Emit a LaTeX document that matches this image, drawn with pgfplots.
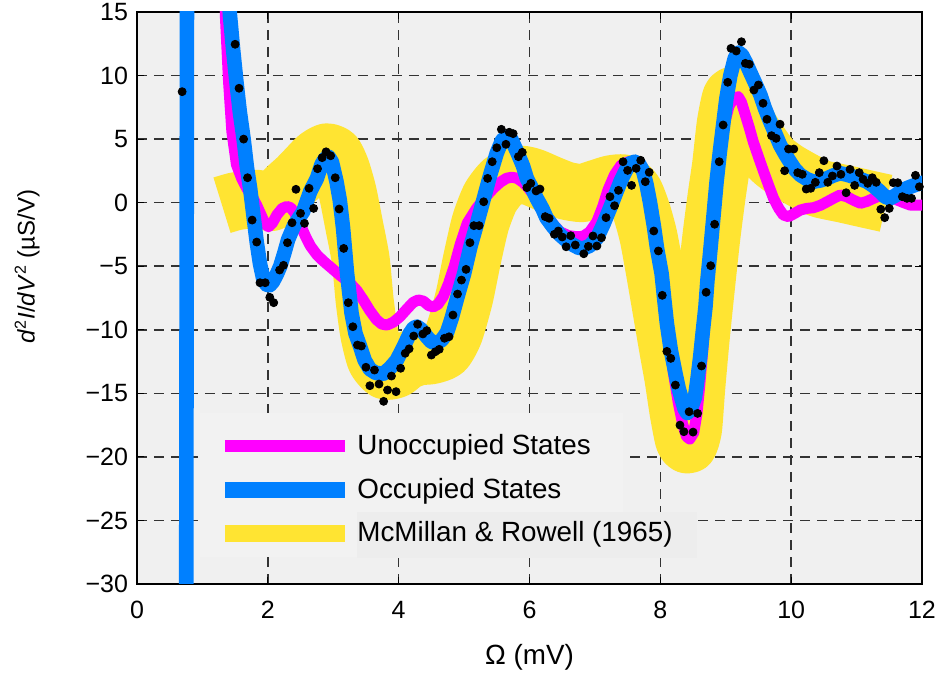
\documentclass[border=0pt]{standalone}
\usepackage{fontspec}
\setmainfont{Liberation Sans}
\usepackage{pgfplots}
\pgfplotsset{compat=1.18}
\definecolor{bggray}{HTML}{F0F0F0}
\definecolor{leggray}{HTML}{F2F2F2}
\definecolor{rowgray}{HTML}{EDEDED}
\definecolor{mymag}{HTML}{FF00FF}
\definecolor{myblue}{HTML}{0080FF}
\definecolor{myyel}{HTML}{FFE432}
\begin{document}
\begin{tikzpicture}
\begin{axis}[
  scale only axis, width=392.5pt, height=286pt,
  xmin=0, xmax=12, ymin=-30, ymax=15,
  xtick={0,2,...,12}, ytick={-30,-25,...,15},
  yticklabels={−30,−25,−20,−15,−10,−5,0,5,10,15},
  /pgf/number format/assume math mode=true,
  tick label style={font=\fontsize{12.5}{14}\selectfont},
  xticklabel style={yshift=-5pt},
  yticklabel style={xshift=-1pt},
  grid=major,
  grid style={black!80, line width=0.75pt, dash pattern=on 5pt off 3.5pt},
  axis background/.style={fill=bggray},
  axis line style={line width=1pt},
  tick style={black, line width=0.6pt},
  tick align=inside, major tick length=3.5pt,
  xlabel={Ω (mV)},
  xlabel style={font=\fontsize{13.9}{16}\selectfont, at={(axis description cs:0.5,-0.129)}, anchor=center},
  ylabel={\textit{d}\textsuperscript{2}\textit{I}/\textit{dV}\textsuperscript{2} (µS/V)},
  ylabel style={font=\fontsize{12}{14}\selectfont, at={(axis description cs:-0.14,0.555)}, anchor=center},
  legend style={at={(axis description cs:0.0803,0.299)}, anchor=north west,
    fill=none, draw=none, inner xsep=8pt, inner ysep=5.6pt,
    column sep=2pt, row sep=0pt,
    font=\fontsize{13.9}{16}\selectfont,
    nodes={inner sep=0pt, minimum height=21.75pt}},
  legend cell align=left,
]
\addlegendimage{legend image code/.code={\draw[mymag, line width=6pt] (0pt,0pt) -- (60pt,0pt);}}
\addlegendentry{Unoccupied States}
\addlegendimage{legend image code/.code={\draw[myblue, line width=8pt] (0pt,0pt) -- (60pt,0pt);}}
\addlegendentry{Occupied States}
\addlegendimage{legend image code/.code={\draw[myyel, line width=8.5pt] (0pt,0pt) -- (60pt,0pt);}}
\addlegendentry{McMillan \& Rowell (1965)}

\fill[leggray] (axis cs:0.963,-16.55) rectangle (axis cs:7.43,-27.88);
\fill[rowgray] (axis cs:3.364,-24.34) rectangle (axis cs:8.563,-27.96);

% McMillan & Rowell (1965)
\addplot[myyel, line width=29pt, line join=round, smooth, tension=0.4, forget plot] coordinates {
(1.30,-0.2)(1.50,0.1)(1.70,0.25)(1.85,0.3)(1.97,0.1)(2.05,0.05)(2.15,0.4)(2.30,1.2)(2.45,1.9)(2.60,2.7)(2.75,3.5)(2.90,3.95)(3.02,3.7)(3.12,2.6)(3.22,0.8)(3.32,-1.8)(3.42,-4.5)(3.48,-7.7)(3.55,-10.3)(3.65,-12.3)(3.80,-13.2)(3.95,-13.1)(4.10,-12.5)(4.30,-12.1)(4.50,-12.0)(4.70,-11.6)(4.85,-10.2)(5.00,-7.5)(5.12,-4.5)(5.25,-1.6)(5.40,0.4)(5.60,1.7)(5.85,2.2)(6.05,2.0)(6.30,1.45)(6.55,0.95)(6.80,0.75)(7.00,1.05)(7.25,1.45)(7.45,1.5)(7.60,0.8)(7.72,-0.8)(7.82,-2.7)(7.92,-5.5)(8.02,-8.5)(8.12,-11.5)(8.20,-13.8)(8.28,-16.5)(8.36,-18.6)(8.43,-19.0)(8.50,-17.8)(8.55,-14.5)(8.62,-10.5)(8.70,-6.5)(8.78,-2.7)(8.86,0.5)(8.93,3.0)(9.00,6.2)(9.08,8.2)(9.16,8.4)(9.25,7.2)(9.35,6.0)(9.50,4.8)(9.70,3.4)(9.93,2.5)(10.20,1.7)(10.44,1.1)(10.80,0.7)(11.10,0.35)(11.45,-0.05)
};

% Unoccupied States
\addplot[mymag, line width=5.5pt, line join=round, forget plot] coordinates {
(1.30,30)(1.35,14.8)(1.40,9.5)(1.45,5.6)(1.52,3.0)(1.60,1.9)(1.68,1.1)(1.76,0.5)(1.83,-0.2)(1.90,-1.0)(1.96,-1.7)(2.01,-1.9)(2.07,-1.6)(2.14,-0.95)(2.22,-0.45)(2.29,-0.3)(2.35,-0.4)(2.41,-0.8)(2.47,-1.4)(2.52,-2.0)(2.58,-2.7)(2.65,-3.4)(2.75,-4.1)(2.85,-4.6)(2.95,-5.04)(3.10,-5.7)(3.26,-6.35)(3.36,-6.9)(3.46,-7.66)(3.56,-8.5)(3.66,-9.2)(3.74,-9.55)(3.82,-9.63)(3.92,-9.4)(4.02,-8.97)(4.12,-8.4)(4.22,-7.85)(4.30,-7.65)(4.38,-7.75)(4.46,-8.1)(4.53,-8.2)(4.60,-8.0)(4.68,-7.4)(4.76,-6.4)(4.85,-5.0)(4.94,-3.3)(5.05,-1.6)(5.19,-0.45)(5.32,0.4)(5.45,1.13)(5.55,1.6)(5.65,1.92)(5.73,2.0)(5.81,1.92)(5.90,1.6)(5.96,1.3)(6.05,0.7)(6.15,-0.1)(6.26,-1.0)(6.36,-1.7)(6.47,-2.3)(6.60,-2.6)(6.72,-2.68)(6.82,-2.65)(6.92,-2.3)(7.03,-1.5)(7.12,-0.3)(7.20,1.0)(7.30,2.2)(7.40,2.95)(7.50,3.2)(7.58,3.25)(7.66,3.0)(7.74,2.4)(7.80,1.2)(7.85,0)(7.91,-2)(7.96,-3.9)(8.02,-5.8)(8.07,-8)(8.12,-10.3)(8.20,-13.4)(8.27,-15.6)(8.34,-17.4)(8.40,-18.4)(8.45,-18.6)(8.51,-18.1)(8.56,-16.6)(8.60,-14.5)(8.65,-11.5)(8.70,-8)(8.75,-4.8)(8.80,-2)(8.86,1.0)(8.92,3.9)(8.98,6.2)(9.05,7.6)(9.12,8.2)(9.19,8.34)(9.24,7.9)(9.30,6.9)(9.36,5.9)(9.42,4.8)(9.50,3.6)(9.58,2.43)(9.66,1.3)(9.73,0.34)(9.81,-0.45)(9.88,-0.97)(9.96,-1.1)(10.05,-0.85)(10.14,-0.58)(10.24,-0.45)(10.34,-0.4)(10.45,-0.2)(10.55,0.07)(10.65,0.35)(10.75,0.6)(10.85,0.47)(10.95,0.2)(11.06,-0.05)(11.16,0.1)(11.26,0.34)(11.36,0.55)(11.46,0.6)(11.54,0.4)(11.62,0.21)(11.72,0)(11.82,-0.19)(11.97,-0.19)(12.05,-0.2)
};

% Occupied States
\addplot[myblue, line width=7.3pt, line join=round, forget plot] coordinates {
(0.75,-40)(0.77,40)(1.30,40)(1.36,22)(1.42,14.8)(1.47,12.0)(1.52,9.5)(1.57,7.2)(1.63,5.0)(1.68,2.8)(1.73,1.1)(1.78,-1.0)(1.83,-3.1)(1.88,-4.8)(1.93,-6.0)(1.98,-6.45)(2.03,-6.5)(2.08,-6.2)(2.14,-5.6)(2.19,-5.0)(2.25,-4.0)(2.31,-2.9)(2.40,-1.8)(2.54,-0.7)(2.65,0.9)(2.75,1.9)(2.82,3.0)(2.88,3.5)(2.93,3.6)(2.98,3.2)(3.05,1.65)(3.10,0.2)(3.15,-2.0)(3.21,-5.5)(3.28,-8.7)(3.34,-10.3)(3.41,-11.3)(3.48,-12.4)(3.56,-13.1)(3.65,-13.4)(3.77,-13.45)(3.87,-13.0)(3.97,-12.4)(4.07,-11.4)(4.17,-10.3)(4.23,-9.85)(4.28,-9.75)(4.35,-10.0)(4.43,-10.55)(4.50,-10.95)(4.58,-11.05)(4.66,-10.8)(4.74,-10.2)(4.81,-9.1)(4.90,-7.4)(5.00,-5.6)(5.10,-3.4)(5.20,-1.6)(5.30,0.3)(5.40,2.2)(5.50,3.9)(5.58,4.9)(5.65,5.2)(5.72,5.0)(5.81,4.0)(5.90,2.9)(5.96,1.9)(6.04,1.1)(6.11,0.34)(6.20,-0.5)(6.26,-1.2)(6.36,-1.9)(6.47,-2.55)(6.57,-3.0)(6.67,-3.33)(6.75,-3.55)(6.82,-3.6)(6.92,-3.4)(7.03,-2.8)(7.13,-1.7)(7.23,-0.45)(7.31,0.6)(7.39,1.65)(7.47,2.5)(7.54,3.1)(7.61,3.22)(7.68,3.0)(7.74,2.43)(7.79,1.4)(7.84,0.07)(7.90,-1.8)(7.95,-3.6)(8.02,-5.6)(8.06,-7.6)(8.10,-9.5)(8.16,-11.6)(8.23,-13.4)(8.28,-14.6)(8.33,-15.5)(8.37,-16.2)(8.41,-16.55)(8.46,-16.3)(8.53,-15.3)(8.57,-13.8)(8.61,-12.1)(8.65,-10.1)(8.69,-8.2)(8.72,-6.1)(8.76,-4.0)(8.81,-1.2)(8.86,1.65)(8.91,4.0)(8.96,6.1)(9.01,8.2)(9.07,10.0)(9.14,11.4)(9.20,11.8)(9.25,11.6)(9.31,11.0)(9.37,10.3)(9.45,9.4)(9.53,8.47)(9.60,7.4)(9.68,6.37)(9.76,5.4)(9.83,4.54)(9.91,3.8)(9.98,3.22)(10.06,2.6)(10.14,2.18)(10.24,1.85)(10.34,1.65)(10.45,1.75)(10.55,1.92)(10.65,2.15)(10.75,2.31)(10.85,2.2)(10.95,2.04)(11.06,1.85)(11.16,1.65)(11.26,1.3)(11.36,0.86)(11.44,0.45)(11.51,0.34)(11.59,0.55)(11.67,0.86)(11.75,1.1)(11.82,1.25)(11.90,1.4)(11.97,1.52)(12.05,1.6)
};

% data points
\addplot[only marks, mark=*, mark size=2pt, black, forget plot] coordinates {
(0.69,8.73)(1.50,12.46)(1.56,9.0)(1.63,5.0)(1.69,1.96)(1.76,-1.37)(1.83,-3.1)(1.88,-6.3)(1.96,-6.3)(2.03,-7.45)(2.09,-7.87)(2.18,-5.3)(2.24,-4.93)(2.30,-3.15)(2.37,-1.58)(2.43,1.05)(2.50,-0.84)(2.56,-1.63)(2.63,1.13)(2.70,-0.45)(2.76,2.67)(2.83,3.54)(2.89,4.0)(2.96,3.69)(3.03,1.96)(3.09,-0.5)(3.16,-3.6)(3.23,-7.87)(3.30,-9.76)(3.37,-11.2)(3.43,-11.28)(3.50,-12.95)(3.56,-14.4)(3.63,-13.17)(3.70,-14.27)(3.77,-15.63)(3.83,-14.74)(3.89,-13.64)(3.96,-14.87)(4.03,-13.03)(4.10,-11.85)(4.16,-11.5)(4.23,-10.49)(4.29,-9.57)(4.37,-10.33)(4.43,-10.07)(4.50,-11.99)(4.56,-11.73)(4.62,-11.54)(4.70,-10.67)(4.77,-10.55)(4.83,-8.84)(4.90,-7.19)(4.96,-6.09)(5.03,-5.25)(5.09,-3.15)(5.15,-1.81)(5.23,-1.81)(5.30,0.07)(5.36,1.91)(5.43,3.22)(5.50,4.32)(5.57,5.77)(5.64,4.59)(5.69,5.54)(5.75,5.43)(5.83,3.62)(5.89,3.96)(5.96,1.18)(6.02,1.52)(6.10,0.92)(6.16,1.07)(6.24,-1.1)(6.30,-1.23)(6.38,-2.49)(6.44,-2.23)(6.50,-2.7)(6.56,-3.47)(6.63,-2.6)(6.70,-3.33)(6.83,-4.02)(6.90,-3.44)(6.97,-2.62)(7.03,-3.41)(7.10,-2.76)(7.17,-1.18)(7.23,0.47)(7.30,-0.24)(7.36,0.97)(7.43,3.22)(7.50,2.54)(7.56,1.36)(7.63,2.70)(7.70,3.33)(7.77,1.65)(7.83,2.39)(7.90,-2.23)(7.97,-3.8)(8.03,-7.29)(8.10,-11.7)(8.16,-12.25)(8.23,-14.35)(8.30,-17.5)(8.36,-18.02)(8.44,-16.45)(8.50,-18.05)(8.57,-16.58)(8.63,-12.85)(8.70,-7.05)(8.77,-4.96)(8.83,-1.7)(8.90,3.22)(8.96,6.11)(9.03,9.47)(9.08,12.14)(9.16,11.93)(9.24,12.66)(9.30,10.96)(9.36,10.89)(9.43,8.86)(9.50,9.26)(9.57,7.82)(9.63,6.56)(9.70,5.27)(9.77,5.06)(9.83,6.17)(9.90,2.51)(9.96,4.22)(10.04,4.22)(10.10,2.36)(10.17,2.23)(10.23,1.07)(10.30,1.13)(10.37,1.6)(10.43,2.36)(10.50,3.3)(10.56,1.6)(10.63,2.1)(10.70,2.88)(10.76,2.23)(10.84,0.78)(10.90,2.62)(10.97,1.36)(11.04,2.36)(11.10,1.84)(11.17,1.52)(11.24,1.96)(11.30,1.6)(11.37,-0.52)(11.43,-1.18)(11.50,-0.45)(11.56,1.57)(11.63,1.57)(11.70,0.47)(11.77,0.34)(11.84,0.34)(11.90,2.15)(11.96,1.25)
};
\end{axis}
\path (current axis.south west) ++(-68.5pt,-46.5pt) coordinate (bbl);
\path (current axis.north east) ++(10.5pt,6pt) coordinate (btr);
\pgfresetboundingbox
\useasboundingbox (bbl) rectangle (btr);
\end{tikzpicture}
\end{document}
